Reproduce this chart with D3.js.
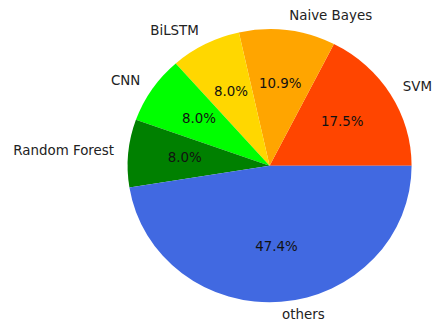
<!DOCTYPE html>
<html>
<head>
<meta charset="utf-8">
<script src="https://cdn.jsdelivr.net/npm/d3@7"></script>
<style>
  html, body { margin: 0; padding: 0; background: #fff; }
  svg { display: block; }
  text { font-family: "DejaVu Sans", sans-serif; font-size: 13.4px; fill: #111; }
</style>
</head>
<body>
<svg id="chart" width="434" height="322"></svg>
<script>
// Model counts per category (share of papers)
const categories = ["SVM", "Naive Bayes", "BiLSTM", "CNN", "Random Forest", "others"];
const counts = [24, 15, 11, 11, 11, 65];
const colors = ["#FF4500", "#FFA500", "#FFD700", "#00FF00", "#008000", "#4169E1"];

const width = 434, height = 322;
const cx = 269.6, cy = 165.8;
const rx = 142, ry = 136.5;          // slightly wider than tall
const labelDist = 1.1, pctDist = 0.6;

const svg = d3.select("#chart");

const data = categories.map((c, i) => ({ name: c, value: counts[i], color: colors[i] }));
const total = d3.sum(counts);

// Start at 3 o'clock and run counter-clockwise
const pie = d3.pie()
  .sort(null)
  .value(d => d.value)
  .startAngle(Math.PI / 2)
  .endAngle(Math.PI / 2 - 2 * Math.PI);

const arcs = pie(data);
const arc = d3.arc().innerRadius(0).outerRadius(rx);

const g = svg.append("g")
  .attr("transform", `translate(${cx},${cy}) scale(1,${ry / rx})`);

g.selectAll("path")
  .data(arcs)
  .join("path")
  .attr("d", arc)
  .attr("fill", d => d.data.color);

const mid = d => (d.startAngle + d.endAngle) / 2;
const px = (d, k) => cx + Math.sin(mid(d)) * rx * k;
const py = (d, k) => cy - Math.cos(mid(d)) * ry * k;

// Category labels outside the pie
svg.selectAll("text.label")
  .data(arcs)
  .join("text")
  .attr("class", "label")
  .attr("x", d => px(d, labelDist))
  .attr("y", d => py(d, labelDist))
  .attr("dy", "0.25em")
  .attr("text-anchor", d => Math.sin(mid(d)) > 0 ? "start" : "end")
  .style("fill", "#222")
  .text(d => d.data.name);

// Percentage labels inside the wedges
const fmt = d3.format(".1%");
svg.selectAll("text.pct")
  .data(arcs)
  .join("text")
  .attr("class", "pct")
  .attr("x", d => px(d, pctDist))
  .attr("y", d => py(d, pctDist))
  .attr("dy", "0.25em")
  .attr("text-anchor", "middle")
  .text(d => fmt(d.data.value / total));
</script>
</body>
</html>
